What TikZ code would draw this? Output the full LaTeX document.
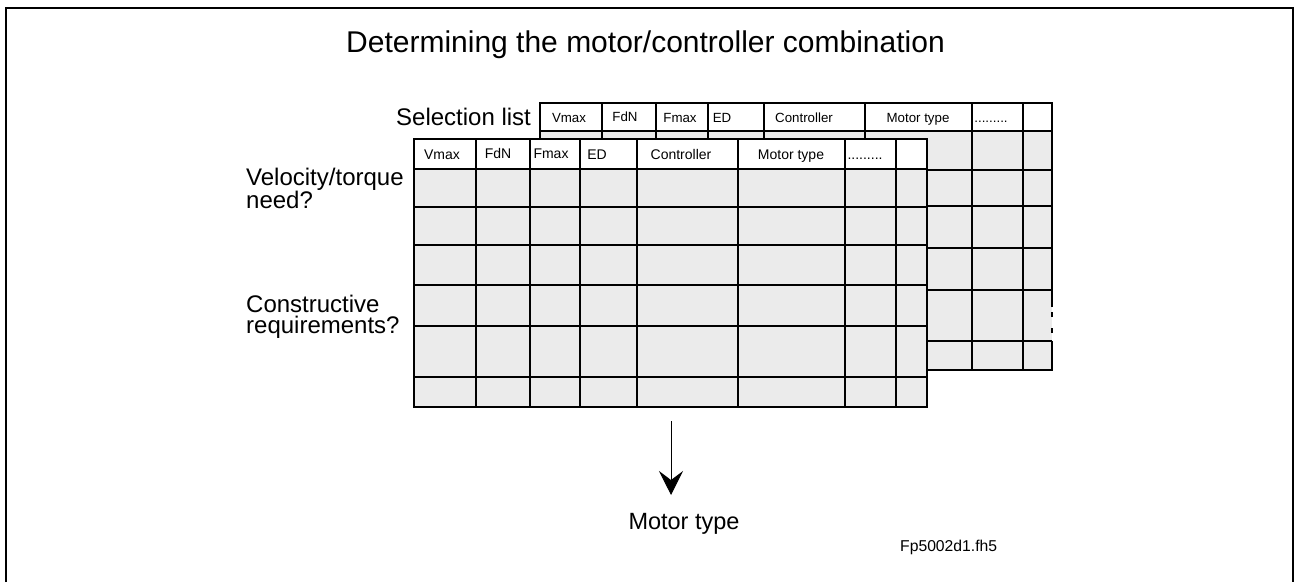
\documentclass[tikz,border=0pt]{standalone}
\usepackage{fontspec}
\setmainfont{Liberation Sans}
\usetikzlibrary{arrows.meta}
\definecolor{cellgrey}{RGB}{235,235,235}
\begin{document}
\begin{tikzpicture}[x=1pt,y=-1pt,
  frame/.style={line width=2pt},
  tblout/.style={line width=2pt},
  tblin/.style={line width=1.3pt},
  hlabb/.style={inner sep=0pt, anchor=base, font=\fontsize{13.3}{16}\selectfont},
  hlabf/.style={inner sep=0pt, anchor=base, font=\fontsize{14}{16}\selectfont},
  biglab/.style={inner sep=0pt, anchor=base west, font=\fontsize{24}{21}\selectfont},
  twolab/.style={inner sep=0pt, anchor=north west, align=left, font=\fontsize{24}{21.5}\selectfont},
  arrowline/.style={line width=1pt, -{Stealth[length=24pt,width=24pt,inset=9pt]}},
]
\useasboundingbox (0,0) rectangle (1295,582);
% outer frame
\draw[frame] (5.5,582) -- (5.5,7.5) -- (1292.5,7.5) -- (1292.5,582);

% title
\node[inner sep=0pt, anchor=base, font=\fontsize{30}{34}\selectfont] (title) at (645.5,52) {Determining the motor/controller combination};

% back table (selection list)
\fill[cellgrey] (540,103) rectangle (1052,370);
\fill[white] (540,103) rectangle (1052,131);
\foreach \y in {170,206,248,290,341} \draw[tblin] (540,\y) -- (1052,\y);
\foreach \x in {602,656,708,764,865,972,1023} \draw[tblin] (\x,103) -- (\x,370);
\draw[tblout] (540,131) -- (1052,131);
\draw[tblout] (1052,307) -- (1052,103) -- (540,103) -- (540,370) -- (1052,370) -- (1052,341);
\draw[tblout, dash pattern=on 5pt off 11pt] (1052,312) -- (1052,341);

\node[hlabb] (bVmax) at (569,122) {Vmax};
\node[hlabb] (bFdN) at (625,121) {FdN};
\node[hlabb] (bFmax) at (680,122) {Fmax};
\node[hlabb] (bED) at (722,122) {ED};
\node[hlabb] (bCtrl) at (804,122) {Controller};
\node[hlabb] (bMot) at (918,122) {Motor type};
\node[hlabb] (bDots) at (991,122) {.........};

% front table
\fill[cellgrey] (414,139) rectangle (927,407);
\fill[white] (414,139) rectangle (927,169);
\foreach \y in {207,245,285,326,377} \draw[tblin] (414,\y) -- (927,\y);
\foreach \x in {476,530,580,637,738,845,896} \draw[tblin] (\x,139) -- (\x,407);
\draw[tblout] (414,169) -- (927,169);
\draw[tblout] (414,139) rectangle (927,407);

\node[hlabf] (fVmax) at (442,159) {Vmax};
\node[hlabf] (fFdN) at (498,158) {FdN};
\node[hlabf] (fFmax) at (551,158) {Fmax};
\node[hlabf] (fED) at (597,159) {ED};
\node[hlabf] (fCtrl) at (681,159) {Controller};
\node[hlabf] (fMot) at (791,159) {Motor type};
\node[hlabf] (fDots) at (865,159) {.........};

% side labels
\node[biglab] (sel) at (396,125) {Selection list};
\node[twolab] (vel) at (246,167.5) {Velocity/torque\\need?};
\node[twolab] (con) at (246,294.5) {Constructive\\requirements?};

% result
\coordinate (aS) at (671,421);
\coordinate (aE) at (671,495);
\draw[arrowline] (aS) -- (aE);
\node[inner sep=0pt, anchor=base, font=\fontsize{23.5}{26}\selectfont] (mt) at (684,529) {Motor type};

\node[inner sep=0pt, anchor=base west, font=\fontsize{15.7}{18}\selectfont] (fp) at (900,551) {Fp5002d1.fh5};
\end{tikzpicture}
\end{document}
